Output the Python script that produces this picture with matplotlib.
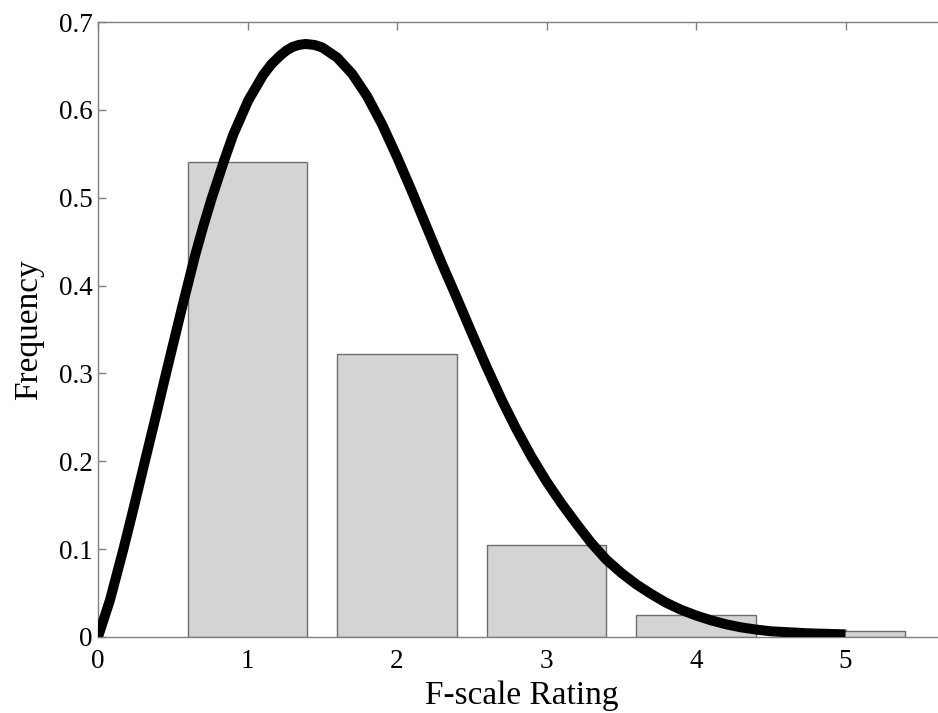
import matplotlib
matplotlib.use("Agg")
import matplotlib.pyplot as plt

# ─── DATA ─────────────────────────────────────────────────────────────────────
ratings = [1, 2, 3, 4, 5]
freqs   = [0.541, 0.322, 0.105, 0.025, 0.007]

# fitted curve
curve_x = [0.00, 0.08, 0.17, 0.24, 0.31, 0.385, 0.455, 0.565, 0.649, 0.705,
           0.760, 0.843, 0.905, 1.006, 1.106, 1.16, 1.217, 1.26, 1.30, 1.345,
           1.39, 1.45, 1.50, 1.60, 1.70, 1.80, 1.90, 2.00, 2.10, 2.20,
           2.30, 2.40, 2.50, 2.60, 2.70, 2.80, 2.90, 3.00, 3.10, 3.20,
           3.30, 3.40, 3.50, 3.60, 3.70, 3.80, 3.90, 4.00, 4.10, 4.20,
           4.30, 4.40, 4.50, 4.75, 5.00]
curve_y = [0.000, 0.042, 0.100, 0.148, 0.1975, 0.250, 0.300, 0.377, 0.434, 0.468,
           0.499, 0.542, 0.572, 0.611, 0.640, 0.652, 0.6615, 0.6675, 0.6715, 0.674,
           0.675, 0.6738, 0.671, 0.6595, 0.641, 0.6155, 0.5835, 0.5465, 0.507, 0.466,
           0.425, 0.386, 0.346, 0.307, 0.270, 0.236, 0.205, 0.177, 0.152, 0.129,
           0.107, 0.088, 0.073, 0.060, 0.049, 0.039, 0.031, 0.0245, 0.019, 0.0145,
           0.011, 0.0085, 0.0065, 0.0042, 0.003]

x_ticks = [0, 1, 2, 3, 4, 5]
y_ticks = [0, 0.1, 0.2, 0.3, 0.4, 0.5, 0.6, 0.7]
y_tick_labels = ["0", "0.1", "0.2", "0.3", "0.4", "0.5", "0.6", "0.7"]

# ─── PLOT ─────────────────────────────────────────────────────────────────────
plt.rcParams["font.family"] = ["Liberation Serif", "DejaVu Serif"]

W, H = 938, 713
fig = plt.figure(figsize=(W / 100, H / 100), dpi=100)
# axes runs 0..6 but the right part is cut off by the figure edge
ax = fig.add_axes([98 / W, 76 / H, 6 * 149.5 / W, 615 / H])

ax.bar(ratings, freqs, width=0.8, color="#d4d4d4", edgecolor="#6e6e6e",
       linewidth=1.0, zorder=2)
ax.plot(curve_x, curve_y, color="black", linewidth=7.2,
        solid_joinstyle="round", solid_capstyle="butt", zorder=3)

ax.set_xlim(0, 6)
ax.set_ylim(0, 0.7)
ax.set_xticks(x_ticks)
ax.set_xticklabels([str(t) for t in x_ticks])
ax.set_yticks(y_ticks)
ax.set_yticklabels(y_tick_labels)

for s in ax.spines.values():
    s.set_color("#808080")
    s.set_linewidth(1.0)
ax.tick_params(direction="in", top=True, right=True, length=6, width=1.0,
               color="#808080", labelsize=19.5, labelcolor="black")
ax.tick_params(axis="x", pad=9)
ax.tick_params(axis="y", pad=4)

ax.set_xlabel("F-scale Rating", fontsize=24, va="baseline")
ax.xaxis.set_label_coords((522 - 98) / 897, (637 - 704) / 615)
ax.set_ylabel("Frequency", fontsize=24, va="baseline", ha="center",
              rotation_mode="anchor")
ax.yaxis.set_label_coords((37 - 98) / 897, 0.5)

fig.savefig("out.png", dpi=100)
